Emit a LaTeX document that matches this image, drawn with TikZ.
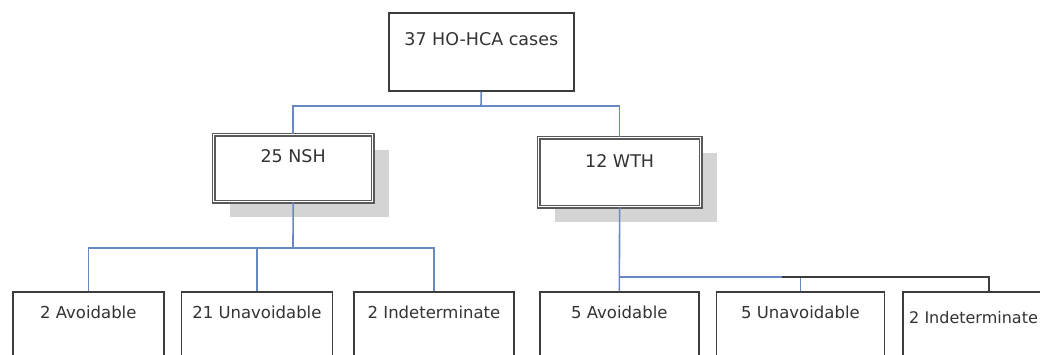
\documentclass[tikz,border=0pt]{standalone}
\usepackage{fontspec}
\setmainfont{DejaVu Sans}
\usepackage{xcolor}
\usepackage{tikz}
\usetikzlibrary{positioning, shadows}

\definecolor{linkblue}{RGB}{105,135,195}
\definecolor{boxgray}{RGB}{60,60,60}

\begin{document}
\begin{tikzpicture}[
    x=1pt, y=-1pt,
    rootbox/.style={
        rectangle, draw=boxgray, line width=1.6pt, fill=white,
        anchor=north west, inner ysep=0pt, minimum width=185pt,
        text height=32.5pt, text depth=45.5pt,
        font=\fontsize{17.5}{20}\selectfont, text=black!80
    },
    groupbox/.style={
        rectangle, draw=boxgray!85, double=white, double distance=1.2pt,
        line width=1.3pt, fill=white, anchor=north west, inner ysep=0pt,
        text depth=39pt, font=\fontsize{17.5}{20}\selectfont, text=black!80,
        drop shadow={shadow xshift=16pt, shadow yshift=-15pt,
                     fill=black!17, opacity=1}
    },
    outcome/.style={
        rectangle, draw=boxgray, line width=1.6pt, fill=white,
        anchor=north west, inner ysep=0pt,
        text height=27pt, text depth=52pt,
        font=\fontsize{16.5}{19}\selectfont, text=black!80
    },
    link/.style={draw=linkblue, line width=1.6pt},
    darklink/.style={draw=boxgray, line width=1.6pt}
]
\useasboundingbox (0,0) rectangle (1040,354);
\clip (0,0) rectangle (1040,354);

% Top of the tree
\node[rootbox] (root) at (388,12) {37 HO-HCA cases};

% Hospital groups
\node[groupbox, minimum width=159pt, text height=28pt] (nsh) at (213,134) {25 NSH};
\node[groupbox, minimum width=162pt, text height=30pt] (wth) at (538,137) {12 WTH};

% Outcomes
\node[outcome, minimum width=151pt] (nshavoid) at (12,291) {2 Avoidable};
\node[outcome, minimum width=151pt, right=16pt of nshavoid.north east, anchor=north west] (nshunavoid) {21 Unavoidable};
\node[outcome, minimum width=160pt, right=20pt of nshunavoid.north east, anchor=north west] (nshindet) {2 Indeterminate};
\node[outcome, minimum width=159pt] (wthavoid) at (539,291) {5 Avoidable};
\node[outcome, minimum width=168pt, right=16pt of wthavoid.north east, anchor=north west] (wthunavoid) {5 Unavoidable};
\node[outcome, text width=160pt, inner xsep=6pt, align=left,
      text height=32pt, text depth=47pt, font=\fontsize{16}{19}\selectfont,
      right=17pt of wthunavoid.north east, anchor=north west] (wthindet) {2 Indeterminate};

% Junctions
\coordinate (jroot) at (481,106);
\coordinate (jnsh) at (293,248);
\coordinate (jwth) at (619,277);
\coordinate (jsplit) at (782,277);

% Connectors
\draw[link] (root.south) -- (jroot);
\draw[link] (nsh.north) -- (nsh.north |- jroot) -- (wth.north |- jroot) -- (wth.north);
\draw[link] (nsh.south) -- (jnsh);
\draw[link] (nshavoid.north) -- (nshavoid.north |- jnsh) -- (nshindet.north |- jnsh) -- (nshindet.north);
\draw[link] (nshunavoid.north) -- (nshunavoid.north |- jnsh);
\draw[link] (wth.south) -- (wthavoid.north);
\draw[link] (jwth) -- (jsplit);
\draw[link] (wthunavoid.north) -- (wthunavoid.north |- jwth);
\draw[darklink] (jsplit) -| (wthindet.north);

\end{tikzpicture}
\end{document}
